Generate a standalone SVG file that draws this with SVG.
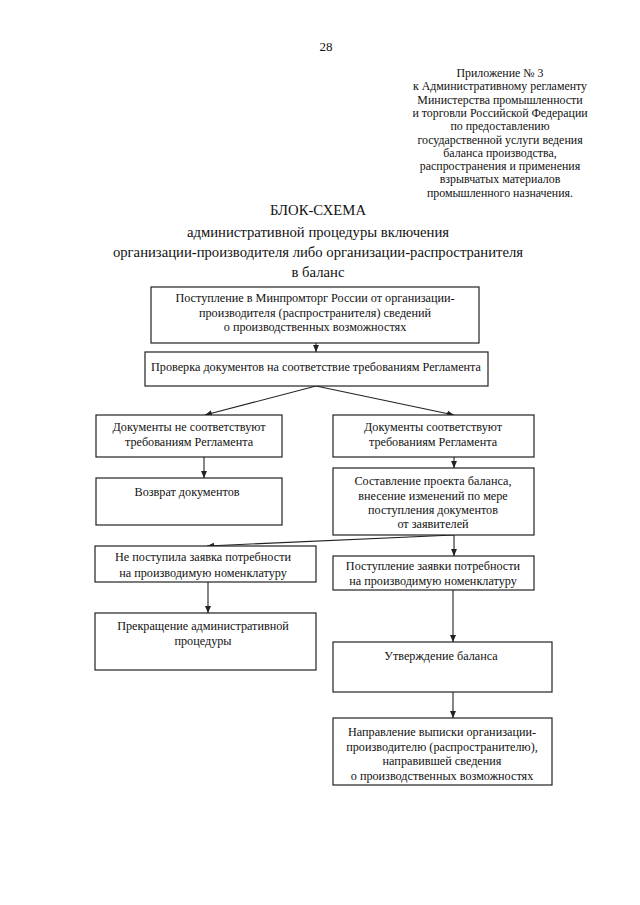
<svg xmlns="http://www.w3.org/2000/svg" width="640" height="905" viewBox="0 0 640 905">
<style>
text{font-family:"Liberation Serif","Times New Roman",serif;fill:#111}
.h{font-size:11.9px;text-anchor:middle}
.t{font-size:14.7px;text-anchor:middle}
.b{font-size:12.2px;text-anchor:middle}
rect{fill:#fff;stroke:#222;stroke-width:1.2}
.c line,.c path{stroke:#222;stroke-width:1.1;fill:none}
</style>
<defs>
<marker id="ah" markerWidth="8" markerHeight="8" refX="7" refY="4" orient="auto" markerUnits="userSpaceOnUse">
<path d="M0,1 L7,4 L0,7 Z" fill="#222"/>
</marker>
</defs>
<rect x="0" y="0" width="640" height="905" style="fill:#fff;stroke:none"/>
<g id="header">
<text x="326" y="51" style="font-size:13px;text-anchor:middle">28</text>
<text class="h" x="500" y="77">Приложение № 3</text>
<text class="h" x="500" y="90.3">к Административному регламенту</text>
<text class="h" x="500" y="103.6">Министерства промышленности</text>
<text class="h" x="500" y="116.9">и торговли Российской Федерации</text>
<text class="h" x="500" y="130.2">по предоставлению</text>
<text class="h" x="500" y="143.5">государственной услуги ведения</text>
<text class="h" x="500" y="156.8">баланса производства,</text>
<text class="h" x="500" y="170.1">распространения и применения</text>
<text class="h" x="500" y="183.4">взрывчатых материалов</text>
<text class="h" x="500" y="196.7">промышленного назначения.</text>
</g>
<g id="title">
<text class="t" x="318" y="215">БЛОК-СХЕМА</text>
<text class="t" x="318" y="237">административной процедуры включения</text>
<text class="t" x="318" y="257">организации-производителя либо организации-распространителя</text>
<text class="t" x="318" y="277">в баланс</text>
</g>
<g class="c" id="connectors">
<line x1="316" y1="343" x2="316" y2="352" marker-end="url(#ah)"/>
<line x1="316" y1="386" x2="205" y2="415" marker-end="url(#ah)"/>
<line x1="316" y1="386" x2="454" y2="415" marker-end="url(#ah)"/>
<line x1="204" y1="457" x2="204" y2="478" marker-end="url(#ah)"/>
<line x1="454" y1="457" x2="454" y2="468" marker-end="url(#ah)"/>
<line x1="454" y1="535" x2="207" y2="546" marker-end="url(#ah)"/>
<line x1="454" y1="535" x2="454" y2="556" marker-end="url(#ah)"/>
<line x1="208" y1="582" x2="208" y2="613" marker-end="url(#ah)"/>
<line x1="453" y1="590" x2="453" y2="642" marker-end="url(#ah)"/>
<line x1="453" y1="692" x2="453" y2="718" marker-end="url(#ah)"/>
</g>
<g id="n1"><rect x="151" y="287" width="328" height="56"/>
<text class="b" x="315" y="302">Поступление в Минпромторг России от организации-</text>
<text class="b" x="315" y="317">производителя (распространителя) сведений</text>
<text class="b" x="315" y="331">о производственных возможностях</text></g>
<g id="n2"><rect x="145" y="352" width="343" height="34"/>
<text class="b" x="316" y="371">Проверка документов на соответствие требованиям Регламента</text></g>
<g id="n3"><rect x="96" y="415" width="186" height="42"/>
<text class="b" x="189" y="431">Документы не соответствуют</text>
<text class="b" x="189" y="446">требованиям Регламента</text></g>
<g id="n4"><rect x="333" y="415" width="201" height="42"/>
<text class="b" x="433" y="431">Документы соответствуют</text>
<text class="b" x="433" y="446">требованиям Регламента</text></g>
<g id="n5"><rect x="96" y="478" width="186" height="47"/>
<text class="b" x="187" y="496">Возврат документов</text></g>
<g id="n6"><rect x="333" y="468" width="201" height="67"/>
<text class="b" x="433" y="485">Составление проекта баланса,</text>
<text class="b" x="433" y="500">внесение изменений по мере</text>
<text class="b" x="433" y="514">поступления документов</text>
<text class="b" x="433" y="528">от заявителей</text></g>
<g id="n7"><rect x="95" y="546" width="221" height="36"/>
<text class="b" x="203" y="561">Не поступила заявка потребности</text>
<text class="b" x="203" y="577">на производимую номенклатуру</text></g>
<g id="n8"><rect x="333" y="556" width="201" height="34"/>
<text class="b" x="433" y="570">Поступление заявки потребности</text>
<text class="b" x="433" y="585">на производимую номенклатуру</text></g>
<g id="n9"><rect x="95" y="613" width="221" height="57"/>
<text class="b" x="203" y="630">Прекращение административной</text>
<text class="b" x="203" y="645">процедуры</text></g>
<g id="n10"><rect x="333" y="642" width="219" height="50"/>
<text class="b" x="441" y="660">Утверждение баланса</text></g>
<g id="n11"><rect x="333" y="718" width="219" height="67"/>
<text class="b" x="442" y="736">Направление выписки организации-</text>
<text class="b" x="442" y="751">производителю (распространителю),</text>
<text class="b" x="442" y="765">направившей сведения</text>
<text class="b" x="442" y="780">о производственных возможностях</text></g>
</svg>
